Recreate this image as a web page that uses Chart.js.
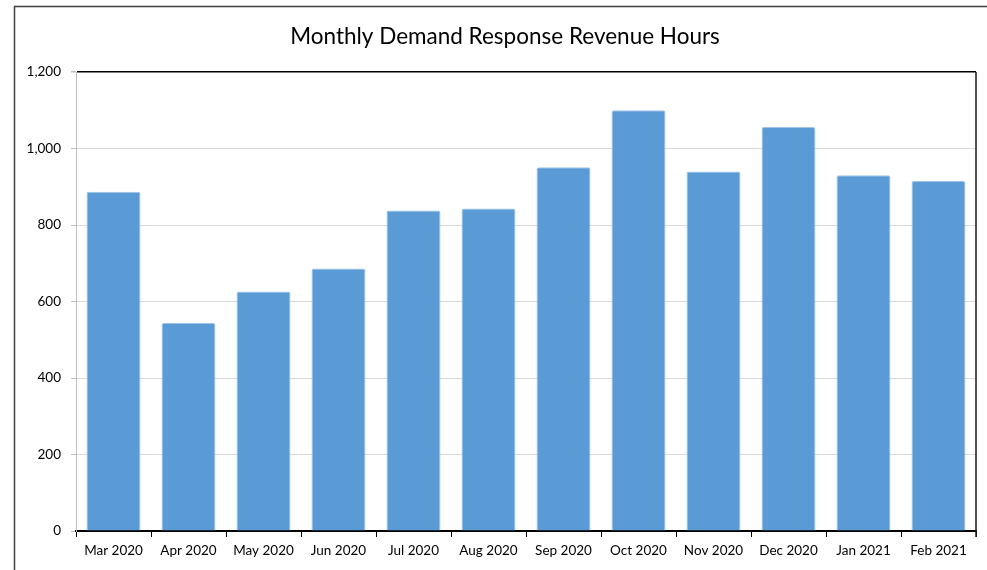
<!DOCTYPE html>
<html>
<head>
<meta charset="utf-8">
<script src="https://cdn.jsdelivr.net/npm/chart.js@4"></script>
<style>
  html, body { margin: 0; padding: 0; background: #fff; overflow: hidden; }
  #wrap { width: 987px; height: 570px; overflow: hidden; }
</style>
</head>
<body>
<div id="wrap"><canvas id="grafico" width="1010" height="570"></canvas></div>
<script>
// Datos del gráfico
const meses = ["Mar 2020", "Apr 2020", "May 2020", "Jun 2020", "Jul 2020", "Aug 2020",
               "Sep 2020", "Oct 2020", "Nov 2020", "Dec 2020", "Jan 2021", "Feb 2021"];
const horas = [887, 544, 626, 686, 838, 843, 951, 1100, 940, 1056, 930, 915];
const ejeY = { min: 0, max: 1200, paso: 200 };
const titulo = "Monthly Demand Response Revenue Hours";

const fuente = "Lato, 'Open Sans', sans-serif";

// Marco exterior y borde derecho del área de trazado
const bordes = {
    id: "bordes",
    afterDraw(chart) {
        const { ctx, chartArea } = chart;
        ctx.save();
        ctx.strokeStyle = "#3f3f3f";
        ctx.lineWidth = 1.5;
        ctx.strokeRect(14.5, 6.5, 982, 600);
        ctx.strokeStyle = "#1a1a1a";
        ctx.beginPath();
        ctx.moveTo(chartArea.right, chartArea.top);
        ctx.lineTo(chartArea.right, chartArea.bottom + 6);
        ctx.stroke();
        ctx.restore();
    }
};

new Chart(document.getElementById("grafico"), {
    type: "bar",
    data: {
        labels: meses,
        datasets: [{
            label: "Hours",
            data: horas,
            backgroundColor: "#5B9BD5",
            borderColor: "#9DC3E6",
            borderWidth: 1,
            borderRadius: 2,
            borderSkipped: "bottom",
            barPercentage: 0.72,
            categoryPercentage: 1
        }]
    },
    options: {
        responsive: false,
        animation: false,
        layout: { padding: 0 },
        plugins: {
            legend: { display: false },
            tooltip: { enabled: false },
            title: {
                display: true,
                text: titulo,
                color: "#000",
                font: { family: fuente, size: 22.5, weight: "normal" },
                padding: { top: 23, bottom: 22 }
            }
        },
        scales: {
            x: {
                afterFit: s => { s.height = 39; },
                grid: { drawOnChartArea: false, tickLength: 6, tickColor: "#000", tickWidth: 1 },
                border: { color: "#000", width: 2 },
                ticks: { color: "#000", font: { family: fuente, size: 13.5 }, padding: 6, maxRotation: 0 }
            },
            y: {
                min: ejeY.min,
                max: ejeY.max,
                afterFit: s => { s.width = 76; },
                grid: {
                    color: c => (c.tick && c.tick.value === ejeY.max) ? "#000" : "#d9d9d9",
                    lineWidth: c => (c.tick && c.tick.value === ejeY.max) ? 1.5 : 1,
                    tickLength: 5,
                    tickColor: "#bfbfbf"
                },
                border: { color: "#bfbfbf", width: 1 },
                ticks: {
                    stepSize: ejeY.paso,
                    color: "#000",
                    padding: 10,
                    font: { family: fuente, size: 13.5 },
                    callback: v => v.toLocaleString("en-US")
                }
            },
            // eje vacío a la derecha para dejar el margen del marco
            margen: {
                position: "right",
                display: true,
                afterFit: s => { s.width = 34; },
                grid: { display: false },
                border: { display: false },
                ticks: { display: false }
            }
        }
    },
    plugins: [bordes]
});
</script>
</body>
</html>
